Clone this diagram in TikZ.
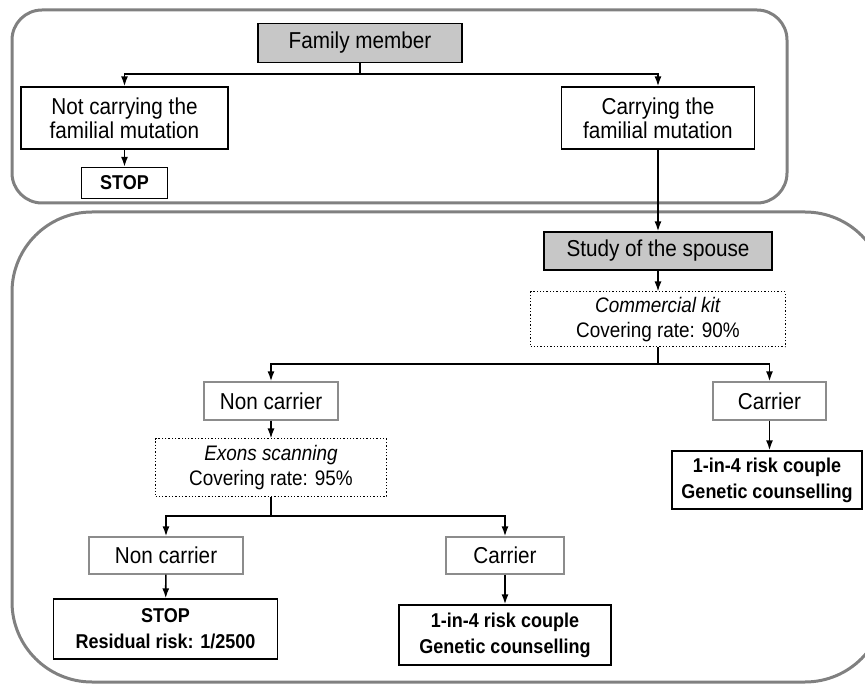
\documentclass[tikz,border=0pt]{standalone}
\usepackage{fontspec}
\setmainfont{Liberation Sans}[FakeStretch=0.9]
\usetikzlibrary{arrows.meta}

\begin{document}
\begin{tikzpicture}[x=1pt,y=-1pt,
  box/.style={draw, line width=1.3pt, align=center, inner sep=0pt, font=\fontsize{23}{24}\selectfont},
  greybox/.style={box, fill=black!22},
  softbox/.style={box, draw=black!45},
  dotbox/.style={box, dotted, line width=1pt, font=\fontsize{21}{25}\selectfont},
  boldbox/.style={box, font=\fontsize{20}{26}\selectfont\bfseries},
  frame/.style={draw=black!50, line width=3pt},
  arr/.style={-{Latex[length=10pt,width=7pt]}, line width=1.6pt}]
\useasboundingbox (0,0) rectangle (865,684);
\clip (0,0) rectangle (865,684);
% the two phases
\draw[frame, rounded corners=30pt] (12,10) rectangle (787,203);
\draw[frame, rounded corners=80pt] (12,212) rectangle (885,682);
% family member
\node[greybox, minimum width=204, minimum height=39] (fam) at (360,43) {Family member};
\node[box, minimum width=207, minimum height=62] (notcar) at (124.5,118) {Not carrying the\\familial mutation};
\node[box, minimum width=193, minimum height=62] (car) at (658,118) {Carrying the\\familial mutation};
\node[boldbox, minimum width=86, minimum height=31] (stopA) at (124.5,183) {STOP};
\coordinate (forkA) at (360,74);
\draw[line width=1.6pt] (fam.south) -- (forkA);
\draw[arr] (forkA) -| (notcar.north);
\draw[arr] (forkA) -| (car.north);
\draw[arr] (notcar) -- (stopA);
% spouse
\node[greybox, minimum width=228, minimum height=38] (spouse) at (658,251) {Study of the spouse};
\node[dotbox, minimum width=255, minimum height=55] (kit) at (658,319.5) {\textit{Commercial kit}\\Covering rate: 90\%};
\draw[arr] (car) -- (spouse);
\draw[arr] (spouse) -- (kit);
\node[softbox, minimum width=134, minimum height=38] (noncarA) at (271,401) {Non carrier};
\node[softbox, minimum width=113, minimum height=38] (carA) at (769.5,401) {Carrier};
\coordinate (forkB) at (658,364);
\draw[line width=1.6pt] (kit.south) -- (forkB);
\draw[arr] (forkB) -| (noncarA.north);
\draw[arr] (forkB) -| (carA.north);
\node[boldbox, minimum width=190, minimum height=58] (riskA) at (767,480) {1-in-4 risk couple\\Genetic counselling};
\draw[arr] (carA.south) -- (riskA.north -| carA.south);
% exons
\node[dotbox, minimum width=231, minimum height=57] (exons) at (271,467.5) {\textit{Exons scanning}\\Covering rate: 95\%};
\draw[arr] (noncarA) -- (exons);
\node[softbox, minimum width=154, minimum height=37] (noncarB) at (166,555.5) {Non carrier};
\node[softbox, minimum width=118, minimum height=37] (carB) at (505,555.5) {Carrier};
\coordinate (forkC) at (271,516);
\draw[line width=1.6pt] (exons.south) -- (forkC);
\draw[arr] (forkC) -| (noncarB.north);
\draw[arr] (forkC) -| (carB.north);
\node[boldbox, minimum width=224, minimum height=60] (stopB) at (165.5,629) {STOP\\Residual risk: 1/2500};
\node[boldbox, minimum width=212, minimum height=60] (riskB) at (505,635) {1-in-4 risk couple\\Genetic counselling};
\draw[arr] (noncarB) -- (stopB);
\draw[arr] (carB) -- (riskB);
\end{tikzpicture}
\end{document}
